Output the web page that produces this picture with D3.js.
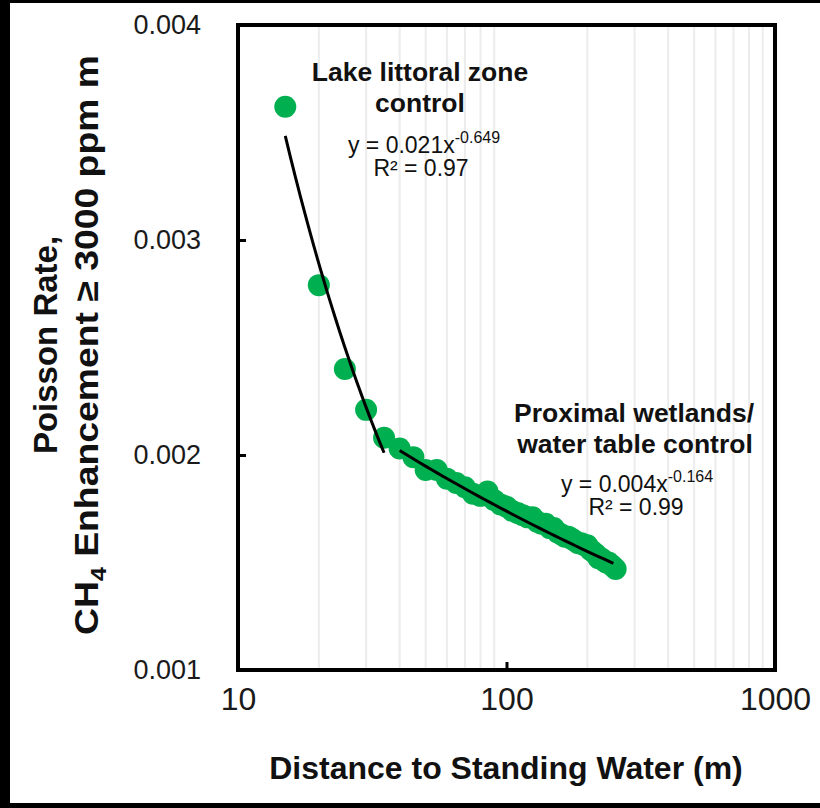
<!DOCTYPE html>
<html lang="en">
<head>
<meta charset="UTF-8">
<title>Poisson rate vs distance</title>
<script src="https://d3js.org/d3.v7.min.js"></script>
<style>
  body { margin: 0; background: #fff; }
  text { font-family: "Liberation Sans", Arial, Helvetica, sans-serif; }
</style>
</head>
<body>
<script>
// lake littoral zone group
var distLake = [15, 20, 25, 30, 35];
var rateLake = [0.00362, 0.00279, 0.0024, 0.00221, 0.00208];

// proximal wetlands group
var distWet = [40, 45, 50, 55, 60, 65, 70, 75, 80, 85, 90, 95, 100, 105, 110, 115, 120, 125, 130, 135,
  140, 145, 150, 155, 160, 165, 170, 175, 180, 185, 190, 195, 200, 205, 210, 215, 220, 225, 230, 235,
  240, 245, 250, 255];
var rateWet = [0.00203, 0.00199, 0.00193, 0.00193, 0.00189, 0.00187, 0.00185, 0.00182, 0.00181, 0.00183,
  0.00179, 0.00177, 0.00176, 0.00174, 0.00173, 0.00172, 0.00171, 0.00171, 0.00169, 0.00168,
  0.00168, 0.00166, 0.00166, 0.00164, 0.00163, 0.00162, 0.00162, 0.00161, 0.00160, 0.00159,
  0.00159, 0.00158, 0.00158, 0.00156, 0.00155, 0.00154, 0.00152, 0.00152, 0.00151, 0.00150,
  0.00150, 0.00149, 0.00148, 0.00147];

// power-law trend lines: [coef, exponent, xFrom, xTo]
var fitLake = [0.0202, -0.649, 15, 35];
var fitWet = [0.0037, -0.164, 40, 250];

var xTicks = [10, 100, 1000];
var yTicks = [0.001, 0.002, 0.003, 0.004];

var width = 820, height = 808;
var pLeft = 238, pRight = 775, pTop = 25, pBottom = 670;

var svg = d3.select("body").append("svg")
  .attr("width", width)
  .attr("height", height);

// black edges of the original picture
svg.append("rect").attr("x", 0).attr("y", 0).attr("width", 10).attr("height", height).attr("fill", "#000");
svg.append("rect").attr("x", 0).attr("y", 0).attr("width", width).attr("height", 3).attr("fill", "#000");
svg.append("rect").attr("x", 0).attr("y", 803).attr("width", width).attr("height", 5).attr("fill", "#000");

var xScale = d3.scaleLog().domain([10, 1000]).range([pLeft, pRight]);
var yScale = d3.scaleLinear().domain([0.001, 0.004]).range([pBottom, pTop]);

// minor vertical grid
var minor = xScale.ticks().filter(function (d) { return xTicks.indexOf(d) < 0; });
svg.append("g").selectAll("line")
  .data(minor)
  .enter().append("line")
  .attr("x1", function (d) { return xScale(d); })
  .attr("x2", function (d) { return xScale(d); })
  .attr("y1", pTop)
  .attr("y2", pBottom)
  .attr("stroke", "#ececec")
  .attr("stroke-width", 2);

// axes
var xAxis = d3.axisBottom(xScale).tickValues(xTicks).tickSize(-8).tickPadding(17).tickFormat(d3.format("d"));
var yAxis = d3.axisLeft(yScale).tickValues(yTicks).tickSize(-8).tickPadding(37).tickFormat(d3.format(".3f"));

var gx = svg.append("g").attr("transform", "translate(0," + pBottom + ")").call(xAxis);
var gy = svg.append("g").attr("transform", "translate(" + pLeft + ",0)").call(yAxis);
[gx, gy].forEach(function (g) {
  g.select(".domain").remove();
  g.selectAll(".tick line").attr("stroke", "#000").attr("stroke-width", 3);
  g.selectAll(".tick text").attr("fill", "#1a1a1a")
    .style("font-family", "'Liberation Sans', Arial, sans-serif");
});
gx.selectAll(".tick text").attr("font-size", 32);
gy.selectAll(".tick text").attr("font-size", 27);

// plot frame
svg.append("rect")
  .attr("x", pLeft).attr("y", pTop)
  .attr("width", pRight - pLeft).attr("height", pBottom - pTop)
  .attr("fill", "none").attr("stroke", "#000").attr("stroke-width", 4);

// points
var green = "#00b050";
var pts = distLake.map(function (d, i) { return { x: d, y: rateLake[i] }; })
  .concat(distWet.map(function (d, i) { return { x: d, y: rateWet[i] }; }));
svg.append("g").selectAll("circle")
  .data(pts)
  .enter().append("circle")
  .attr("cx", function (d) { return xScale(d.x); })
  .attr("cy", function (d) { return yScale(d.y); })
  .attr("r", 11)
  .attr("fill", green);

// trend lines
var line = d3.line()
  .x(function (d) { return xScale(d[0]); })
  .y(function (d) { return yScale(d[1]); });
[fitLake, fitWet].forEach(function (f) {
  var xs = d3.range(0, 41).map(function (i) { return f[2] * Math.pow(f[3] / f[2], i / 40); });
  svg.append("path")
    .datum(xs.map(function (x) { return [x, f[0] * Math.pow(x, f[1])]; }))
    .attr("d", line)
    .attr("fill", "none")
    .attr("stroke", "#000")
    .attr("stroke-width", 3);
});

// annotations
function label(x, y, txt, size, bold) {
  return svg.append("text")
    .attr("x", x).attr("y", y)
    .attr("text-anchor", "middle")
    .attr("font-size", size)
    .attr("font-weight", bold ? "bold" : "normal")
    .attr("fill", "#111")
    .text(txt);
}
label(420, 81, "Lake littoral zone", 26.5, true);
label(420, 112, "control", 26.5, true);
var e1 = label(424, 153, "", 23, false);
e1.append("tspan").text("y = 0.021x");
e1.append("tspan").attr("dy", -10).attr("font-size", 16).text("-0.649");
label(421, 176, "R² = 0.97", 23, false);

label(634, 422, "Proximal wetlands/", 26.5, true);
label(635, 453, "water table control", 26.5, true);
var e2 = label(637, 492, "", 23, false);
e2.append("tspan").text("y = 0.004x");
e2.append("tspan").attr("dy", -10).attr("font-size", 16).text("-0.164");
label(636, 515, "R² = 0.99", 23, false);

// axis titles
svg.append("text")
  .attr("x", 506).attr("y", 779)
  .attr("text-anchor", "middle")
  .attr("font-size", 32).attr("font-weight", "bold").attr("fill", "#111")
  .text("Distance to Standing Water (m)");

var yt = svg.append("g").attr("transform", "translate(0,345) rotate(-90)");
yt.append("text")
  .attr("x", 0).attr("y", 57)
  .attr("text-anchor", "middle")
  .attr("font-size", 33).attr("font-weight", "bold").attr("fill", "#111")
  .text("Poisson Rate,");
var t2 = yt.append("text")
  .attr("x", 0).attr("y", 98)
  .attr("text-anchor", "middle")
  .attr("font-size", 33).attr("font-weight", "bold").attr("fill", "#111")
  .attr("textLength", 580).attr("lengthAdjust", "spacingAndGlyphs");
t2.append("tspan").text("CH");
t2.append("tspan").attr("dy", 8).attr("font-size", 22).text("4");
t2.append("tspan").attr("dy", -8).text(" Enhancement ≥ 3000 ppm m");
</script>
</body>
</html>
